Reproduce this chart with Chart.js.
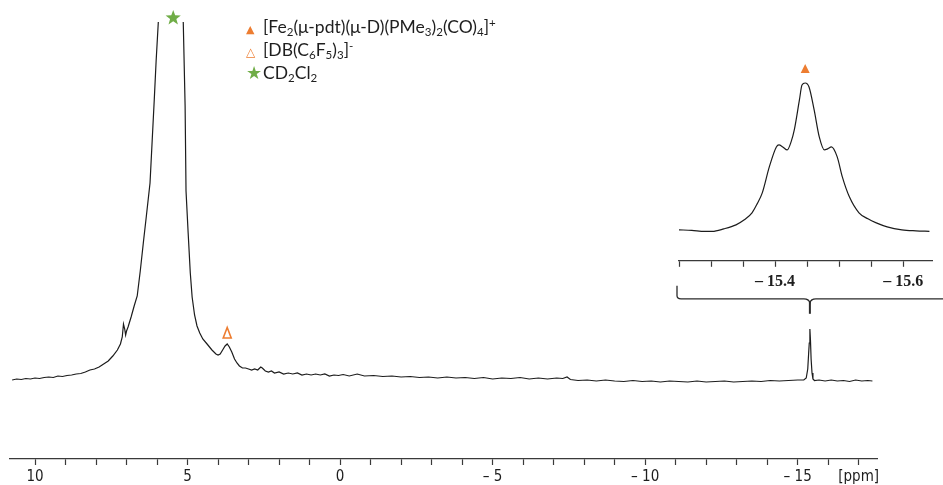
<!DOCTYPE html>
<html>
<head>
<meta charset="utf-8">
<script src="https://cdn.jsdelivr.net/npm/chart.js@4.4.1/dist/chart.umd.min.js"></script>
<style>
  html, body { margin: 0; padding: 0; background: #fff; overflow: hidden; }
  #wrap { position: relative; width: 943px; height: 485px; overflow: hidden; }
  #mainBox { position: absolute; left: 0; top: 0; width: 943px; height: 489px; }
  #insetBox { position: absolute; left: 670px; top: 50px; width: 273px; height: 277px; }
  #legend { position: absolute; left: 246px; top: 15px; font: 17.5px Lato, "Open Sans", sans-serif; color: #1e1e1e; }
  #legend div { height: 23px; line-height: 23px; white-space: nowrap; }
  #legend .m { display: inline-block; width: 17px; font-family: "DejaVu Sans", sans-serif; }
  #legend sub, #legend sup { font-size: 0.66em; line-height: 0; vertical-align: baseline; position: relative; }
  #legend sub { top: 0.3em; }
  #legend sup { top: -0.5em; }
</style>
</head>
<body>
<div id="wrap">
  <div id="mainBox"><canvas id="mainChart"></canvas></div>
  <div id="insetBox"><canvas id="insetChart"></canvas></div>
  <div id="legend">
    <div><span class="m" style="color:#ED7D31;font-size:11px">&#9650;</span>[Fe<sub>2</sub>(&mu;-pdt)(&mu;-D)(PMe<sub>3</sub>)<sub>2</sub>(CO)<sub>4</sub>]<sup>+</sup></div>
    <div><span class="m" style="color:#ED7D31;font-size:12px">&#9651;</span>[DB(C<sub>6</sub>F<sub>5</sub>)<sub>3</sub>]<sup>-</sup></div>
    <div><span class="m" style="color:#70AD47;font-size:18px">&#9733;</span>CD<sub>2</sub>Cl<sub>2</sub></div>
  </div>
</div>
<script>
// full spectrum, chemical shift (ppm) and intensity (arb. units)
const mainPpm = [10.75, 10.6, 10.45, 10.3, 10.15, 10.0, 9.85, 9.7, 9.55, 9.4, 9.25, 9.1, 8.95, 8.8, 8.65, 8.5, 8.35, 8.2, 8.05, 7.9,
  7.75, 7.6, 7.45, 7.3, 7.2, 7.14, 7.1, 7.06, 7.03, 7.0, 6.95, 6.85, 6.75, 6.65, 6.55, 6.45, 6.35, 6.23, 6.16, 6.09,
  6.03, 5.96, 5.85, 5.7, 5.55, 5.4, 5.25, 5.14, 5.08, 5.05, 4.98, 4.91, 4.85, 4.77, 4.69, 4.6, 4.5, 4.36, 4.2, 4.07,
  4.0, 3.93, 3.85, 3.77, 3.7, 3.63, 3.55, 3.46, 3.38, 3.3, 3.2, 3.1, 3.0, 2.9, 2.8, 2.7, 2.6, 2.55, 2.45, 2.35,
  2.25, 2.15, 2.0, 1.85, 1.7, 1.55, 1.4, 1.25, 1.1, 0.95, 0.8, 0.65, 0.5, 0.35, 0.2, 0.05, -0.1, -0.3, -0.56, -0.8,
  -1.1, -1.4, -1.7, -2.0, -2.3, -2.6, -2.9, -3.2, -3.5, -3.8, -4.1, -4.4, -4.7, -5.0, -5.3, -5.6, -5.9, -6.2, -6.5, -6.8,
  -7.1, -7.3, -7.44, -7.55, -7.8, -8.1, -8.4, -8.7, -9.0, -9.3, -9.6, -9.9, -10.2, -10.5, -10.8, -11.1, -11.4, -11.7, -12.0, -12.3,
  -12.6, -12.9, -13.2, -13.5, -13.8, -14.1, -14.4, -14.7, -15.0, -15.2, -15.28, -15.33, -15.36, -15.38, -15.4, -15.42, -15.44, -15.47, -15.5, -15.55,
  -15.7, -15.9, -16.1, -16.3, -16.5, -16.7, -16.9, -17.1, -17.3, -17.45];
const mainInt = [1, 2, 1.5, 2.5, 2, 3, 2.5, 3.5, 4, 3.5, 5, 4.5, 5.5, 6, 7, 7.5, 9, 11, 12, 14,
  17, 20, 25, 31, 37, 44, 57, 52, 46, 50, 54, 64, 75, 85, 110, 138, 165, 198, 240, 282,
  320, 358, 420, 520, 600, 540, 420, 358, 275, 190, 148, 108, 84, 66, 55, 48, 42, 37, 31, 27,
  26, 27, 31, 35, 37, 34, 29, 22, 18, 15, 13, 13, 12, 11, 12, 11, 14, 13, 10, 9,
  10, 8, 9, 7, 8, 7, 8, 6, 7, 6, 7, 6, 7, 5, 6, 5.5, 6.5, 5, 7, 5,
  5.5, 4.5, 5, 4, 4.5, 3.5, 4, 3, 4, 3, 3.5, 2.5, 3.5, 2, 3, 2.5, 3.5, 2, 3, 2,
  3, 2.5, 4, 1.5, 0.5, 1, 0, 1, 0, -0.5, 0.5, -0.5, 0, -1, 0, -0.5, -1, 0, -1, -0.5,
  0, -1, -0.5, 0, -0.5, 0.5, 0, 0.5, 1, 1, 3, 12, 28, 38, 52, 40, 22, 8, 2, 0.5,
  1, 0, 1, 0, 0.5, -0.5, 1, 0, 0.5, 0];

// expanded hydride region
const insetPpm = [-15.25, -15.27, -15.29, -15.302, -15.32, -15.339, -15.352, -15.364, -15.372, -15.38, -15.391, -15.402, -15.406, -15.412, -15.419, -15.425,
  -15.43, -15.438, -15.442, -15.447, -15.453, -15.461, -15.469, -15.477, -15.482, -15.488, -15.497, -15.505, -15.516, -15.531, -15.545, -15.558,
  -15.575, -15.598, -15.62, -15.641];
const insetInt = [0, -0.5, -1.5, -1.5, 1, 5, 10, 17, 26, 37, 63, 83, 85, 83, 80, 88,
  100, 130, 145, 147, 143, 120, 93, 80, 81, 83, 73, 53, 33, 17, 11, 7,
  3, 0, -1, -1.5];

// annotation symbols: [ppm, intensity, kind]
const mainMarks = [[5.47, 363, 'star'], [3.7, 48, 'triOpen']];
const insetMarks = [[-15.447, 161, 'tri']];

const mainTicksLabelled = [10, 5, 0, -5, -10, -15];
const orange = '#ED7D31';
const green = '#70AD47';

function toPoints(xs, ys) {
  return xs.map((x, i) => ({ x: x, y: ys[i] }));
}

function drawMark(ctx, kind, x, y) {
  ctx.save();
  if (kind === 'star') {
    ctx.fillStyle = green;
    ctx.beginPath();
    for (let i = 0; i < 10; i++) {
      const r = i % 2 === 0 ? 8 : 3.3;
      const a = -Math.PI / 2 + i * Math.PI / 5;
      ctx.lineTo(x + r * Math.cos(a), y + r * Math.sin(a));
    }
    ctx.closePath();
    ctx.fill();
  } else if (kind === 'tri') {
    ctx.fillStyle = orange;
    ctx.beginPath();
    ctx.moveTo(x, y - 5);
    ctx.lineTo(x + 4.5, y + 4);
    ctx.lineTo(x - 4.5, y + 4);
    ctx.closePath();
    ctx.fill();
  } else {
    ctx.strokeStyle = orange;
    ctx.lineWidth = 1.6;
    ctx.beginPath();
    ctx.moveTo(x, y - 5.5);
    ctx.lineTo(x + 4, y + 5);
    ctx.lineTo(x - 4, y + 5);
    ctx.closePath();
    ctx.stroke();
  }
  ctx.restore();
}

const peakMarks = {
  id: 'peakMarks',
  afterDraw(chart, args, opts) {
    const ctx = chart.ctx;
    (opts.marks || []).forEach(m => {
      drawMark(ctx, m[2], chart.scales.x.getPixelForValue(m[0]), chart.scales.y.getPixelForValue(m[1]));
    });
  }
};

const axisFont = { family: '"Liberation Sans Narrow", "DejaVu Sans Condensed", sans-serif', size: 15 };

const mainChart = new Chart(document.getElementById('mainChart'), {
  type: 'line',
  data: {
    datasets: [{
      data: toPoints(mainPpm, mainInt),
      borderColor: '#1c1c1c',
      borderWidth: 1.2,
      pointRadius: 0,
      tension: 0
    }]
  },
  options: {
    animation: false,
    responsive: true,
    maintainAspectRatio: false,
    events: [],
    layout: { padding: { left: 10, right: 66, top: 22, bottom: 0 } },
    plugins: {
      legend: { display: false },
      tooltip: { enabled: false },
      peakMarks: { marks: mainMarks }
    },
    scales: {
      x: {
        type: 'linear',
        reverse: true,
        min: -17.6,
        max: 10.82,
        border: { display: true, color: '#3a3a3a', width: 1.3 },
        grid: { drawOnChartArea: false, drawTicks: true, tickLength: 6, tickColor: '#3a3a3a', tickWidth: 1.2 },
        ticks: {
          stepSize: 1,
          autoSkip: false,
          maxRotation: 0,
          includeBounds: false,
          padding: 3,
          color: '#1e1e1e',
          font: axisFont,
          callback: function (v) {
            if (v === -17) return '[ppm]';
            if (mainTicksLabelled.indexOf(v) < 0) return '';
            return v < 0 ? '\u2013 ' + Math.abs(v) : String(v);
          }
        }
      },
      y: {
        display: false,
        min: -78,
        max: 359
      }
    }
  },
  plugins: [peakMarks]
});

// bracket below the inset, pointing at the hydride signal of the full spectrum
let hydridePpm = null;
let hydrideMax = -Infinity;
mainPpm.forEach((p, i) => {
  if (p < -10 && mainInt[i] > hydrideMax) { hydrideMax = mainInt[i]; hydridePpm = p; }
});

const bracket = {
  id: 'bracket',
  afterDraw(chart) {
    const a = chart.chartArea;
    const ctx = chart.ctx;
    const y = a.bottom + 38;
    const nx = mainChart.scales.x.getPixelForValue(hydridePpm) - 670;
    ctx.save();
    ctx.strokeStyle = '#2a2a2a';
    ctx.lineWidth = 1.3;
    ctx.beginPath();
    ctx.moveTo(a.left - 2, y - 13);
    ctx.lineTo(a.left - 2, y - 3);
    ctx.quadraticCurveTo(a.left - 2, y, a.left + 2, y);
    ctx.lineTo(nx - 6, y);
    ctx.quadraticCurveTo(nx - 1, y, nx, y + 4);
    ctx.quadraticCurveTo(nx + 1, y, nx + 6, y);
    ctx.lineTo(chart.width, y);
    ctx.stroke();
    ctx.lineWidth = 2;
    ctx.beginPath();
    ctx.moveTo(nx, y + 3);
    ctx.lineTo(nx, y + 15);
    ctx.stroke();
    ctx.restore();
  }
};

new Chart(document.getElementById('insetChart'), {
  type: 'line',
  data: {
    datasets: [{
      data: toPoints(insetPpm, insetInt),
      borderColor: '#1c1c1c',
      borderWidth: 1.2,
      pointRadius: 0,
      tension: 0.3,
      cubicInterpolationMode: 'monotone'
    }]
  },
  options: {
    animation: false,
    responsive: true,
    maintainAspectRatio: false,
    events: [],
    layout: { padding: { left: 9, right: 11, top: 20, bottom: 31 } },
    plugins: {
      legend: { display: false },
      tooltip: { enabled: false },
      peakMarks: { marks: insetMarks }
    },
    scales: {
      x: {
        type: 'linear',
        reverse: true,
        min: -15.645,
        max: -15.25,
        border: { display: true, color: '#3a3a3a', width: 1.3 },
        grid: { drawOnChartArea: false, drawTicks: true, tickLength: 6, tickColor: '#3a3a3a', tickWidth: 1.2 },
        ticks: {
          stepSize: 0.05,
          autoSkip: false,
          maxRotation: 0,
          includeBounds: false,
          padding: 5,
          color: '#1e1e1e',
          font: { family: '"Liberation Serif", "DejaVu Serif", serif', size: 16, weight: 'bold' },
          callback: function (v) {
            const k = Math.round(v * 100);
            if (k % 20 !== 0) return '';
            return '\u2013 ' + Math.abs(k / 100).toFixed(1);
          }
        }
      },
      y: {
        display: false,
        min: -31,
        max: 160
      }
    }
  },
  plugins: [peakMarks, bracket]
});
</script>
</body>
</html>
